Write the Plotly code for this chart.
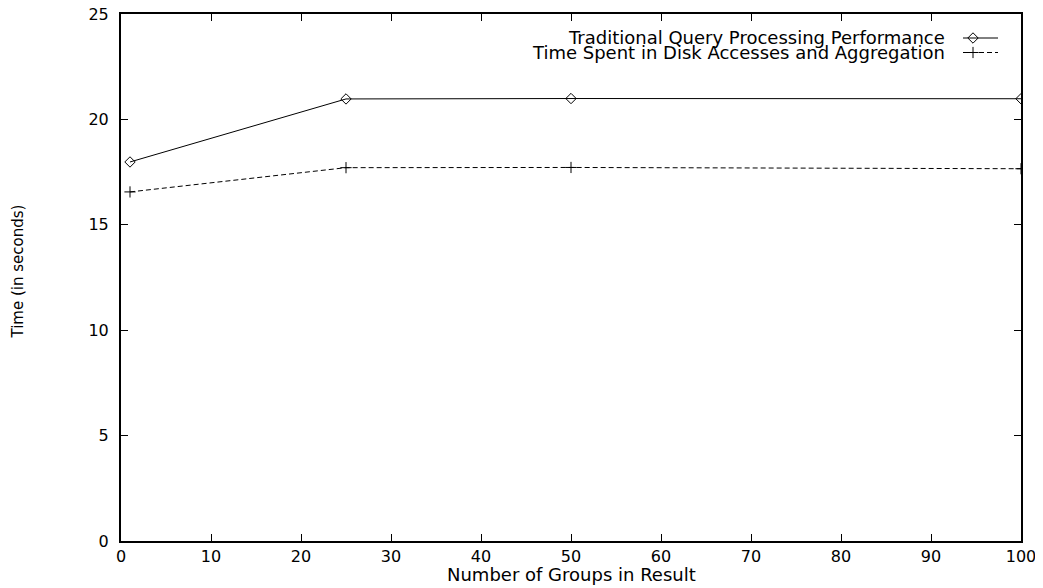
import plotly.graph_objects as go

# ---- data ----
groups = [1, 25, 50, 100]
traditional = [17.98, 20.97, 20.99, 20.98]
disk_agg = [16.56, 17.71, 17.72, 17.66]

x_ticks = [0, 10, 20, 30, 40, 50, 60, 70, 80, 90, 100]
y_ticks = [0, 5, 10, 15, 20, 25]

name_trad = "Traditional Query Processing Performance"
name_disk = "Time Spent in Disk Accesses and Aggregation"
x_title = "Number of Groups in Result"
y_title = "Time (in seconds)"

FONT = "DejaVu Sans"
OFF = 8  # page body margin
W, H = 1043 - OFF, 588 - OFF
# target plot box in screenshot pixels
PL, PR, PT, PB = 121, 1021, 14, 541
L = PL - OFF
T = PT - OFF
R = W - (PR - OFF)
B = H - (PB - OFF)


def px_to_paper(px, py):
    return (px - PL) / (PR - PL), (PB - py) / (PB - PT)


fig = go.Figure()

fig.add_trace(go.Scatter(
    x=groups, y=traditional, mode="lines+markers", name=name_trad,
    line=dict(color="black", width=1),
    marker=dict(symbol="diamond-open", size=8, color="black", line=dict(width=1)),
    showlegend=False,
))
fig.add_trace(go.Scatter(
    x=groups, y=disk_agg, mode="lines+markers", name=name_disk,
    line=dict(color="black", width=1, dash="5px,3px"),
    marker=dict(symbol="cross-thin-open", size=8, color="black", line=dict(width=1, color="black")),
    showlegend=False,
))

# ---- gnuplot-style key (text right, sample to its right) ----
rows = [
    (name_trad, 38, "solid", "diamond-open"),
    (name_disk, 52.5, "5px,3px", "cross-thin-open"),
]
for text, py, dash, sym in rows:
    tx, ty = px_to_paper(947, py)
    fig.add_annotation(x=tx, y=ty, xref="paper", yref="paper", text=text,
                       showarrow=False, xanchor="right", yanchor="middle",
                       font=dict(family=FONT, size=18, color="black"))
    x0, _ = px_to_paper(963, py)
    x1, _ = px_to_paper(998, py)
    xm, _ = px_to_paper(973, py)
    fig.add_trace(go.Scatter(
        x=[x0, x1], y=[ty, ty], mode="lines", xaxis="x2", yaxis="y2",
        line=dict(color="black", width=1, dash=dash), showlegend=False, hoverinfo="skip"))
    fig.add_trace(go.Scatter(
        x=[xm], y=[ty], mode="markers", xaxis="x2", yaxis="y2",
        marker=dict(symbol=sym, size=8, color="black", line=dict(width=1, color="black")),
        showlegend=False, hoverinfo="skip"))

# axis titles
ax, ay = px_to_paper(0, 574)
fig.add_annotation(x=0.5, y=ay, xref="paper", yref="paper", text=x_title,
                   showarrow=False, xanchor="center", yanchor="middle",
                   font=dict(family=FONT, size=18, color="black"))
bx, by = px_to_paper(17.5, 272)
fig.add_annotation(x=bx, y=by, xref="paper", yref="paper", text=y_title,
                   showarrow=False, textangle=-90, xanchor="center", yanchor="middle",
                   font=dict(family=FONT, size=15, color="black"))

axis_common = dict(
    showgrid=False, zeroline=False, showline=True, linecolor="black", linewidth=2,
    mirror="ticks", ticks="inside", ticklen=7, tickwidth=1, tickcolor="black",
    tickfont=dict(family=FONT, size=16, color="black"), automargin=False,
    ticklabeloverflow="allow",
)

fig.update_layout(
    width=W, height=H,
    margin=dict(l=L, r=R, t=T, b=B, pad=0, autoexpand=False),
    paper_bgcolor="white", plot_bgcolor="white",
    xaxis=dict(range=[0, 100], tickvals=x_ticks, ticktext=[str(v) for v in x_ticks],
               ticklabelstandoff=0, **axis_common),
    yaxis=dict(range=[0, 25], tickvals=y_ticks, ticktext=[str(v) for v in y_ticks],
               ticklabelstandoff=7, **axis_common),
    xaxis2=dict(range=[0, 1], overlaying="x", visible=False),
    yaxis2=dict(range=[0, 1], overlaying="y", visible=False),
    showlegend=False,
)

fig.write_html("out.html")
